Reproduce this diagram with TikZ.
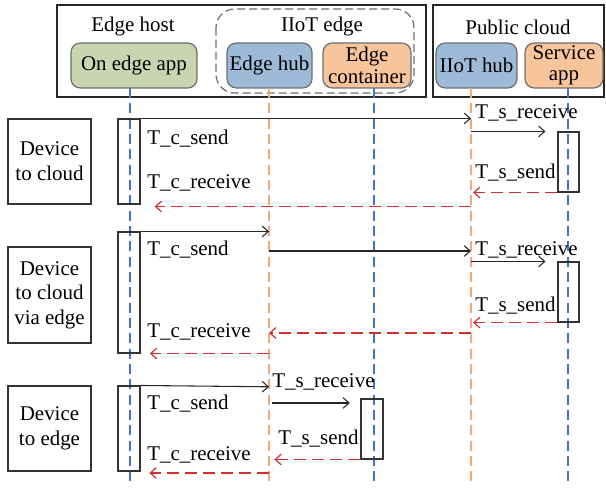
\documentclass[tikz,border=0pt]{standalone}
\usepackage{fontspec}
\setmainfont{Liberation Serif}
\usetikzlibrary{arrows.meta,fit}
\definecolor{appgreen}{RGB}{201,212,176}
\definecolor{hubblue}{RGB}{157,187,217}
\definecolor{contorange}{RGB}{248,196,156}
\definecolor{lineblue}{RGB}{68,114,196}
\definecolor{lineorange}{RGB}{244,170,120}
\definecolor{retred}{RGB}{208,48,48}
\definecolor{edgegray}{RGB}{110,110,110}
\tikzset{
  txt/.style={font=\fontsize{15.7}{17}\selectfont, inner sep=0pt},
  hdr/.style={draw=edgegray, line width=0.9pt, rounded corners=7pt, inner sep=0pt,
    align=center, font=\fontsize{15.7}{16.2}\selectfont, minimum height=33.75pt},
  group/.style={draw=black!85, line width=1.1pt, inner sep=0pt},
  casebox/.style={draw=black!80, line width=0.8pt, inner sep=0pt},
  casetext/.style={inner sep=0pt, align=center, font=\fontsize{15.7}{18.5}\selectfont},
  actbox/.style={draw=black!80, line width=0.8pt, inner sep=0pt},
  lifeblue/.style={draw=lineblue, line width=0.85pt, dash pattern=on 7.5pt off 4pt},
  lifeorange/.style={draw=lineorange, line width=0.85pt, dash pattern=on 7.5pt off 4pt},
  msg/.style={draw=black!85, line width=0.8pt, -{Straight Barb[length=4.5pt,width=8pt]}},
  reply/.style={draw=retred, line width=0.9pt, dash pattern=on 9pt off 4.5pt,
    -{Straight Barb[length=4.5pt,width=8pt]}},
  lbl/.style={txt, anchor=west},
}
\begin{document}
\begin{tikzpicture}[x=0.75pt,y=-0.75pt]
\useasboundingbox (0,0) rectangle (606,488);

% group frames
\node[group, fit={(57,5)(426,97)}] (hostframe) {};
\node[group, fit={(433,5)(604,97)}] (cloudframe) {};
\draw[edgegray, line width=0.9pt, dash pattern=on 6pt off 3pt, rounded corners=14pt]
  (216,9) rectangle (414,93);
\node[txt] (hostlbl) at (133,27) {Edge host};
\node[txt] (edgelbl) at (322,27) {IIoT edge};
\node[txt] (cloudlbl) at (518,27) {Public cloud};

% participants
\node[hdr, fill=appgreen, minimum width=94.5pt] (app) at (134,65.5) {On edge app};
\node[hdr, fill=hubblue, minimum width=63.75pt] (ehub) at (269.5,65.5) {Edge hub};
\node[hdr, fill=contorange, minimum width=66pt] (econt) at (367,65.5) {Edge\\container};
\node[hdr, fill=hubblue, minimum width=60.75pt] (ihub) at (476.5,65.5) {IIoT hub};
\node[hdr, fill=contorange, minimum width=58.5pt] (svc) at (564,65.5) {Service\\app};

% lifelines
\coordinate (Lapp) at (130,88);
\coordinate (Lehub) at (269,88);
\coordinate (Lecont) at (374,88);
\coordinate (Lihub) at (471,88);
\coordinate (Lsvc) at (568,88);
\coordinate (Eapp) at (130,486);
\coordinate (Eehub) at (269,486);
\coordinate (Eecont) at (374,486);
\coordinate (Eihub) at (471,486);
\coordinate (Esvc) at (568,486);
\draw[lifeblue] (Lapp) -- (Eapp);
\draw[lifeorange] (Lehub) -- (Eehub);
\draw[lifeblue] (Lecont) -- (Eecont);
\draw[lifeorange] (Lihub) -- (Eihub);
\draw[lifeblue] (Lsvc) -- (Esvc);

% ---------- device to cloud ----------
\node[casebox, fit={(8,119)(91,204)}] (case1) {};
\node[casetext] (case1txt) at (case1.center) {Device\\to cloud};
\node[actbox, fit={(118,119)(140,204)}] (c1) {};
\node[actbox, fit={(558,132)(579,192)}] (s1) {};
\coordinate (r1) at (140,206.5);
\draw[msg] (c1.north east) -- (c1.north east -| Lihub);
\draw[msg] (Lihub |- s1.north west) -- ([xshift=-9]s1.north west);
\draw[reply] (s1.south west) -- ([xshift=1.5]Lihub |- s1.south west);
\draw[reply] (Lihub |- r1) -- ([xshift=11]r1);
\node[lbl] (c1send) at (147,139) {T\_c\_send};
\node[lbl] (c1recv) at (147,183) {T\_c\_receive};
\node[lbl] (s1recv) at (475,113) {T\_s\_receive};
\node[lbl] (s1send) at (475,173) {T\_s\_send};

% ---------- device to cloud via edge ----------
\node[casebox, fit={(8,247)(91,343)}] (case2) {};
\node[casetext] (case2txt) at (case2.center) {Device\\to cloud\\via edge};
\node[actbox, fit={(118,232)(140,353)}] (c2) {};
\node[actbox, fit={(558,262)(579,322)}] (s2) {};
\coordinate (f2) at (269,251);
\coordinate (b2) at (269,333);
\draw[msg] (c2.north east) -- (c2.north east -| Lehub);
\draw[msg] (f2) -- (f2 -| Lihub);
\draw[msg] (Lihub |- s2.north west) -- ([xshift=-9]s2.north west);
\draw[reply] (s2.south west) -- ([xshift=1.5]Lihub |- s2.south west);
\draw[reply] (Lihub |- b2) -- (b2);
\draw[reply] (Lehub |- c2.south east) -- ([xshift=7]c2.south east);
\node[lbl] (c2send) at (147,250) {T\_c\_send};
\node[lbl] (c2recv) at (147,332) {T\_c\_receive};
\node[lbl] (s2recv) at (475,250) {T\_s\_receive};
\node[lbl] (s2send) at (475,306) {T\_s\_send};

% ---------- device to edge ----------
\node[casebox, fit={(8,386)(91,471)}] (case3) {};
\node[casetext] (case3txt) at (case3.center) {Device\\to edge};
\node[actbox, fit={(118,386)(140,471)}] (c3) {};
\node[actbox, fit={(361,399)(383,459)}] (s3) {};
\coordinate (f3) at (272,403);
\coordinate (r3) at (140,473);
\draw[msg] (c3.north east) -- ([yshift=-1]c3.north east -| Lehub);
\draw[msg] (f3) -- ([xshift=-8]f3 -| s3.west);
\draw[reply] (s3.south west) -- ([xshift=4]Lehub |- s3.south west);
\draw[reply] (Lehub |- r3) -- ([xshift=7]r3);
\node[lbl] (c3send) at (147,404) {T\_c\_send};
\node[lbl] (c3recv) at (147,455) {T\_c\_receive};
\node[lbl] (s3recv) at (272,382) {T\_s\_receive};
\node[lbl] (s3send) at (278,439) {T\_s\_send};
\end{tikzpicture}
\end{document}
